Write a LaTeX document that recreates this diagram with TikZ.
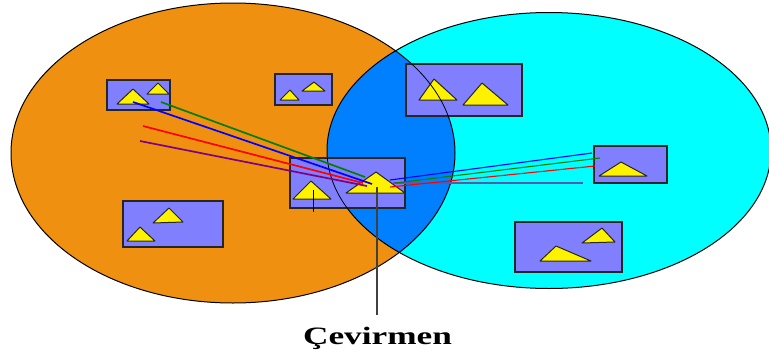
\documentclass[tikz,border=0pt]{standalone}
\usepackage{fontspec}
\setmainfont{Liberation Serif}
\definecolor{orangeset}{RGB}{240,144,16}
\definecolor{cyanset}{RGB}{0,255,255}
\definecolor{overlapset}{RGB}{0,128,255}
\definecolor{panelfill}{RGB}{128,128,255}
\definecolor{slateline}{RGB}{90,90,170}
\definecolor{purpleline}{RGB}{128,0,128}
\definecolor{greenline}{RGB}{0,128,0}
\usetikzlibrary{positioning}

\begin{document}
\begin{tikzpicture}[
            x=1pt, y=-1pt,
            panel/.style={draw=black!85, fill=panelfill, rectangle, line width=1.2pt, inner sep=0pt},
            peak/.style={draw=black!85, fill=yellow, line width=1pt, line join=round},
            wordline/.style={line width=1.7pt},
            thinline/.style={line width=1.1pt}
        ]
            \useasboundingbox (0,0) rectangle (769,354);

            % Sets
            \fill[orangeset] (233,153) ellipse (222 and 150);
            \fill[cyanset] (549,150.5) ellipse (222 and 138);
            \begin{scope}
                \clip (233,153) ellipse (222 and 150);
                \fill[overlapset] (549,150.5) ellipse (222 and 138);
            \end{scope}
            \draw[line width=1pt] (233,153) ellipse (222 and 150);
            \draw[line width=1pt] (549,150.5) ellipse (222 and 138);

            % Left set
            \node[panel, minimum width=63pt, minimum height=30pt] (lefttop) at (138.5,95) {};
            \node[panel, minimum width=57pt, minimum height=31pt] (leftmid) at (303.5,89.5) {};
            \node[panel, minimum width=100pt, minimum height=46pt] (leftlow) at (173,224) {};
            \draw[peak] (133,89) -- (149,104) -- (117,104) -- cycle;
            \draw[peak] (158,83) -- (169,94) -- (147,94) -- cycle;
            \draw[peak] (290,90) -- (299,100) -- (280,100) -- cycle;
            \draw[peak] (314,82) -- (325,91) -- (302,91) -- cycle;
            \draw[peak] (140,227) -- (155,241) -- (127,241) -- cycle;
            \draw[peak] (169,208) -- (183,222) -- (153,223) -- cycle;

            % Right set
            \node[panel, minimum width=116pt, minimum height=52pt] (righttop) at (464,90) {};
            \node[panel, minimum width=73pt, minimum height=37pt] (rightmid) at (630.5,164.5) {};
            \node[panel, minimum width=107pt, minimum height=50pt] (rightlow) at (568.5,247) {};
            \draw[peak] (434,79) -- (457,100) -- (419,100) -- cycle;
            \draw[peak] (482,83) -- (508,105) -- (463,105) -- cycle;
            \draw[peak] (621,162) -- (647,176) -- (599,176) -- cycle;
            \draw[peak] (556,246) -- (591,261) -- (540,261) -- cycle;
            \draw[peak] (602,228) -- (615,242) -- (582,243) -- cycle;

            % Overlap
            \node[panel, minimum width=115pt, minimum height=50pt] (middle) at (347.5,183) {};
            \draw[peak] (311,181) -- (331,199) -- (293,199) -- cycle;
            \draw[peak] (376,172) -- (405,193) -- (346,193) -- cycle;
            \draw[thick] (313,190) -- (313,212);

            % Outlines seen through the panels
            \begin{scope}
                \clip (406,64) rectangle (522,116);
                \draw[line width=.8pt] (233,153) ellipse (222 and 150);
            \end{scope}
            \begin{scope}
                \clip (290,158) rectangle (405,208);
                \draw[line width=.8pt] (549,150.5) ellipse (222 and 138);
            \end{scope}

            % Ends of the word lines
            \coordinate (greenfrom) at (161,102);
            \coordinate (greento) at (365,177);
            \coordinate (bluefrom) at (133,102);
            \coordinate (blueto) at (372,184);
            \coordinate (redfrom) at (143,126);
            \coordinate (redto) at (363,183);
            \coordinate (purplefrom) at (140,141);
            \coordinate (purpleto) at (367,186);
            \draw[wordline, greenline] (greenfrom) -- (greento);
            \draw[wordline, blue] (bluefrom) -- (blueto);
            \draw[wordline, red] (redfrom) -- (redto);
            \draw[wordline, purpleline] (purplefrom) -- (purpleto);

            \coordinate (bluestart) at (390,180);
            \coordinate (blueend) at (592,153);
            \coordinate (greenstart) at (395,183);
            \coordinate (greenend) at (600,158);
            \coordinate (redstart) at (390,187);
            \coordinate (redend) at (595,166);
            \coordinate (slatestart) at (393,183);
            \coordinate (slateend) at (583,183);
            \draw[thinline, slateline] (slatestart) -- (slateend);
            \draw[thinline, blue] (bluestart) -- (blueend);
            \draw[thinline, greenline] (greenstart) -- (greenend);
            \draw[thinline, red] (redstart) -- (redend);

            % Label
            \node[font=\fontsize{25}{25}\selectfont\bfseries, xscale=1.41, inner sep=0pt] (label) at (377.5,338) {Çevirmen};
            \coordinate (labeltop) at (377,315);
            \coordinate (labelfrom) at (377,187);
            \draw[line width=1.2pt, black!75] (labelfrom) -- (labeltop);
        \end{tikzpicture}
\end{document}
